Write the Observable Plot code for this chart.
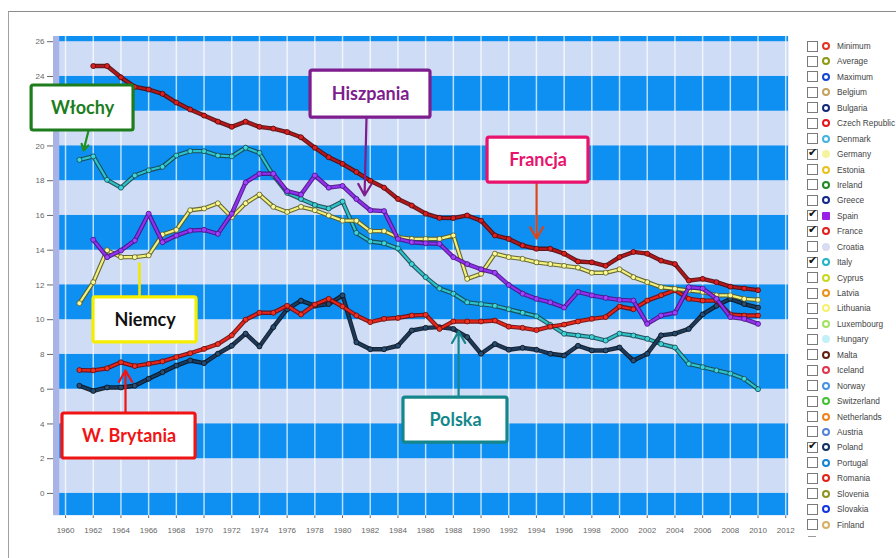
<!DOCTYPE html>
<html><head><meta charset="utf-8">
<script src="https://cdn.jsdelivr.net/npm/d3@7"></script>
<script src="https://cdn.jsdelivr.net/npm/@observablehq/plot@0.6"></script>
<style>
body{margin:0;background:#fff;font-family:"Liberation Sans",Arial,sans-serif;}
#wrap{position:relative;width:896px;height:558px;overflow:hidden;background:#fff;}
#frame{position:absolute;left:8px;top:11px;right:-2px;bottom:-2px;border-top:1px solid #8c8c8c;border-left:1px solid #a0a0a0;}
#chart{position:absolute;left:0;top:0;}
#legend{position:absolute;left:807px;top:38.3px;}
.row{height:15.45px;display:flex;align-items:center;font-size:8.3px;color:#444;white-space:nowrap;}
.cb{width:11px;height:11px;border:1px solid #7a7a7a;background:#fff;box-sizing:border-box;position:relative;margin-right:4px;flex:none;}
.cb span{position:absolute;left:0px;top:-4px;font-size:11px;color:#111;font-family:"DejaVu Sans";}
.ic{width:8px;height:8px;border-radius:50%;box-sizing:border-box;border:2.5px solid;background:#fff;margin-right:7px;flex:none;}
.dash{position:absolute;left:808px;top:536px;width:8px;height:1px;background:#999;}
</style></head>
<body><div id="wrap"><div id="frame"></div><div id="chart"></div><div id="legend"></div><div class="dash"></div></div>
<script>
// ---------- data ----------
const years = [1961,1962,1963,1964,1965,1966,1967,1968,1969,1970,
  1971,1972,1973,1974,1975,1976,1977,1978,1979,1980,
  1981,1982,1983,1984,1985,1986,1987,1988,1989,1990,
  1991,1992,1993,1994,1995,1996,1997,1998,1999,2000,
  2001,2002,2003,2004,2005,2006,2007,2008,2009,2010];
const france = [null,24.6,24.6,23.95,23.4,23.25,23.0,22.5,22.1,21.75,
  21.4,21.1,21.4,21.1,21.0,20.8,20.5,19.9,19.35,18.97,
  18.5,18.0,17.6,16.95,16.57,16.1,15.86,15.85,16.0,15.7,
  14.85,14.65,14.27,14.08,14.08,13.8,13.35,13.3,13.1,13.6,
  13.9,13.8,13.4,13.2,12.25,12.35,12.16,11.9,11.8,11.7];
const italy = [19.2,19.4,18.05,17.6,18.3,18.6,18.8,19.45,19.7,19.7,
  19.45,19.4,19.9,19.6,18.3,17.3,16.95,16.6,16.4,16.8,
  15.0,14.5,14.4,14.1,13.2,12.45,11.8,11.5,11.0,10.9,
  10.8,10.6,10.4,10.2,9.7,9.19,9.09,9.0,8.8,9.2,
  9.09,8.9,8.6,8.4,7.46,7.27,7.08,6.9,6.6,6.0];
const spain = [null,14.6,13.6,13.98,14.56,16.1,14.46,14.84,15.13,15.17,
  14.94,16.1,17.9,18.4,18.4,17.4,17.2,18.3,17.6,17.7,
  16.95,16.3,16.25,14.65,14.46,14.4,14.37,13.6,13.2,12.9,
  12.7,12.0,11.5,11.2,11.0,10.7,11.6,11.4,11.26,11.14,
  11.1,9.76,10.24,10.4,11.87,11.8,11.2,10.15,10.05,9.76];
const germany = [10.95,12.16,14.0,13.6,13.6,13.7,14.9,15.17,16.3,16.4,
  16.7,15.9,16.7,17.2,16.5,16.2,16.5,16.3,16.0,15.7,
  15.7,15.1,15.1,14.75,14.65,14.65,14.65,14.85,12.35,12.64,
  13.8,13.6,13.5,13.3,13.2,13.1,13.0,12.7,12.7,12.9,
  12.45,12.16,11.87,11.78,11.68,11.6,11.4,11.4,11.2,11.14];
const uk = [7.1,7.08,7.2,7.55,7.33,7.46,7.6,7.85,8.07,8.32,
  8.6,9.1,10.0,10.4,10.4,10.8,10.3,10.87,11.2,10.76,
  10.24,9.86,10.05,10.1,10.24,10.28,9.47,9.9,9.9,9.9,
  9.95,9.6,9.53,9.4,9.6,9.72,9.9,10.05,10.15,10.76,
  10.6,11.1,11.4,11.7,11.2,11.1,11.1,10.3,10.24,10.24];
const poland = [6.2,5.9,6.1,6.1,6.2,6.6,6.98,7.36,7.65,7.5,
  8.04,8.5,9.2,8.46,9.57,10.6,11.1,10.8,10.9,11.4,
  8.7,8.3,8.3,8.5,9.38,9.53,9.57,9.47,9.0,8.04,
  8.6,8.27,8.38,8.27,8.04,7.94,8.5,8.23,8.23,8.4,
  7.65,8.04,9.1,9.2,9.47,10.3,10.8,11.2,10.9,10.7];

const xTicks = [1960,1962,1964,1966,1968,1970,1972,1974,1976,1978,1980,1982,1984,1986,
  1988,1990,1992,1994,1996,1998,2000,2002,2004,2006,2008,2010,2012];
const yTicks = [0,2,4,6,8,10,12,14,16,18,20,22,24,26];
const bandStarts = [-2,2,6,10,14,18,22,26];

// annotation callouts (in data units: years / values)
const noteLabels = ["Włochy","Hiszpania","Francja","Niemcy","W. Brytania","Polska"];
const noteX1 = [1957.55,1977.69,1990.47,1962.02,1959.78,1984.40];
const noteX2 = [1964.91,1986.35,1997.76,1969.46,1969.39,1991.91];
const noteY1 = [20.89,21.63,17.89,8.69,2.01,2.93];
const noteY2 = [23.48,24.34,20.48,11.28,4.60,5.52];
const arrowX1 = [1961.66,1981.73,1994.01,1965.34,1964.33,1988.38];
const arrowX2 = [1961.30,1981.59,1994.01,1965.34,1964.33,1988.38];
const arrowY1 = [20.89,21.63,17.89,11.28,4.60,5.52];
const arrowY2 = [19.74,17.15,14.67,13.29,7.08,9.32];
const noteBorder = ["#1d7d1d","#7e1d8d","#e8136c","#f4ee00","#f01414","#15878c"];
const noteText = ["#1d7d1d","#7e1d8d","#e8136c","#111111","#f01414","#15878c"];
const arrowColor = ["#1f8f1f","#7e1d8d","#d8461c","#f0e800","#f01414","#15878c"];
const arrowHead = [true,true,true,false,true,true];

const legendNames = ["Minimum","Average","Maximum","Belgium","Bulgaria","Czech Republic","Denmark","Germany",
  "Estonia","Ireland","Greece","Spain","France","Croatia","Italy","Cyprus","Latvia","Lithuania","Luxembourg",
  "Hungary","Malta","Iceland","Norway","Switzerland","Netherlands","Austria","Poland","Portugal","Romania",
  "Slovenia","Slovakia","Finland"];
const legendColors = ["#e2351e","#8f9a12","#1746d0","#c4a260","#132a78","#e3161e","#44b2e2","#f4f4a0",
  "#e8c21e","#228a22","#13268a","#9a22e6","#e3201e","#d8dcf2","#22b4c8","#c8d820","#ea921e","#f6f070",
  "#a4e062","#c2f0f8","#62200e","#e2344e","#4494e2","#42c232","#f0821e","#5682d2","#133262","#1484d2",
  "#e4221a","#929222","#1434e2","#d4b262"];
const legendChecked = ["Germany","Spain","France","Italy","Poland"];

// ---------- build ----------
const seriesDefs = [
  {name:"Włochy", vals: italy, line:"#2ec2ca", dark:"#17474c", dot:"#3fd6dd"},
  {name:"Polska", vals: poland, line:"#1c3a5c", dark:"#08131f", dot:"#2b4d70"},
  {name:"W. Brytania", vals: uk, line:"#ea2418", dark:"#6a0a0a", dot:"#f23422"},
  {name:"Niemcy", vals: germany, line:"#f2f27a", dark:"#5a5a22", dot:"#fafa9a"},
  {name:"Hiszpania", vals: spain, line:"#9230f2", dark:"#481282", dot:"#a244ff"},
  {name:"Francja", vals: france, line:"#b4161a", dark:"#520808", dot:"#de2222"}
];
const yDom = [-1.27, 26.3], xDom = [1959.13, 2012.2];
const bands = bandStarts.map(b => ({y1: Math.max(b, yDom[0]), y2: Math.min(b + 2, yDom[1])}));
const notes = noteLabels.map((t, i) => ({t, x1: noteX1[i], x2: noteX2[i], y1: noteY1[i], y2: noteY2[i],
  ax1: arrowX1[i], ax2: arrowX2[i], ay1: arrowY1[i], ay2: arrowY2[i],
  border: noteBorder[i], text: noteText[i], ac: arrowColor[i], head: arrowHead[i]}));

const seriesMarks = [];
for (const s of seriesDefs) {
  const rows = years.map((yr, i) => ({year: yr, value: s.vals[i]})).filter(d => d.value != null);
  seriesMarks.push(Plot.line(rows, {x: "year", y: "value", stroke: s.dark, strokeWidth: 4.4, strokeOpacity: 0.9}));
  seriesMarks.push(Plot.line(rows, {x: "year", y: "value", stroke: s.line, strokeWidth: 2.2}));
  seriesMarks.push(Plot.dot(rows, {x: "year", y: "value", r: 2.5, fill: s.dot, stroke: s.dark, strokeWidth: 0.8}));
}

const chart = Plot.plot({
  width: 800, height: 558,
  marginLeft: 53, marginRight: 12, marginTop: 36, marginBottom: 43,
  x: {domain: xDom, ticks: xTicks, tickFormat: d => String(d), tickSize: 3, tickPadding: 9, label: null},
  y: {domain: yDom, ticks: yTicks, tickSize: 6, tickPadding: 3, label: null},
  style: {fontFamily: "Liberation Sans, Arial, sans-serif", fontSize: "8px", color: "#666", background: "transparent", overflow: "visible"},
  marks: [
    Plot.frame({fill: "#cfdcf6", stroke: null}),
    Plot.rect(bands, {x1: xDom[0], x2: xDom[1], y1: "y1", y2: "y2", fill: "#0e8ff2"}),
    Plot.rect([0], {x1: xDom[0], x2: xDom[0] + 0.45, y1: yDom[0], y2: yDom[1], fill: "#a9b3e6"}),
    Plot.ruleX(xTicks, {stroke: "#ffffff", strokeOpacity: 0.7, strokeWidth: 1.5}),
    ...seriesMarks,
    Plot.arrow(notes.filter(d => d.head), {x1: "ax1", y1: "ay1", x2: "ax2", y2: "ay2", stroke: "ac", strokeWidth: 2.2, headLength: 9}),
    Plot.link(notes.filter(d => !d.head), {x1: "ax1", y1: "ay1", x2: "ax2", y2: "ay2", stroke: "ac", strokeWidth: 2.6}),
    Plot.rect(notes, {x1: "x1", x2: "x2", y1: "y1", y2: "y2", fill: "#ffffff", stroke: "border", strokeWidth: 3.2, rx: 2}),
    Plot.text(notes, {x: d => (d.x1 + d.x2) / 2, y: d => (d.y1 + d.y2) / 2, text: "t", fill: "text",
      fontSize: 18, fontWeight: "bold", fontFamily: "Lato, 'Open Sans', sans-serif"})
  ]
});
document.getElementById("chart").appendChild(chart);

// legend
const lg = document.getElementById("legend");
legendNames.forEach((n, i) => {
  const row = document.createElement("div"); row.className = "row";
  const cb = document.createElement("div"); cb.className = "cb";
  if (legendChecked.includes(n)) { const s = document.createElement("span"); s.textContent = "✔"; cb.appendChild(s); }
  const ic = document.createElement("div"); ic.className = "ic";
  ic.style.borderColor = legendColors[i];
  if (n === "Germany" || n === "Croatia" || n === "Hungary") { ic.style.background = legendColors[i]; }
  if (n === "Spain") { ic.style.background = legendColors[i]; ic.style.borderRadius = "1px"; }
  const tx = document.createElement("div"); tx.textContent = n;
  row.appendChild(cb); row.appendChild(ic); row.appendChild(tx);
  lg.appendChild(row);
});
</script></body></html>
